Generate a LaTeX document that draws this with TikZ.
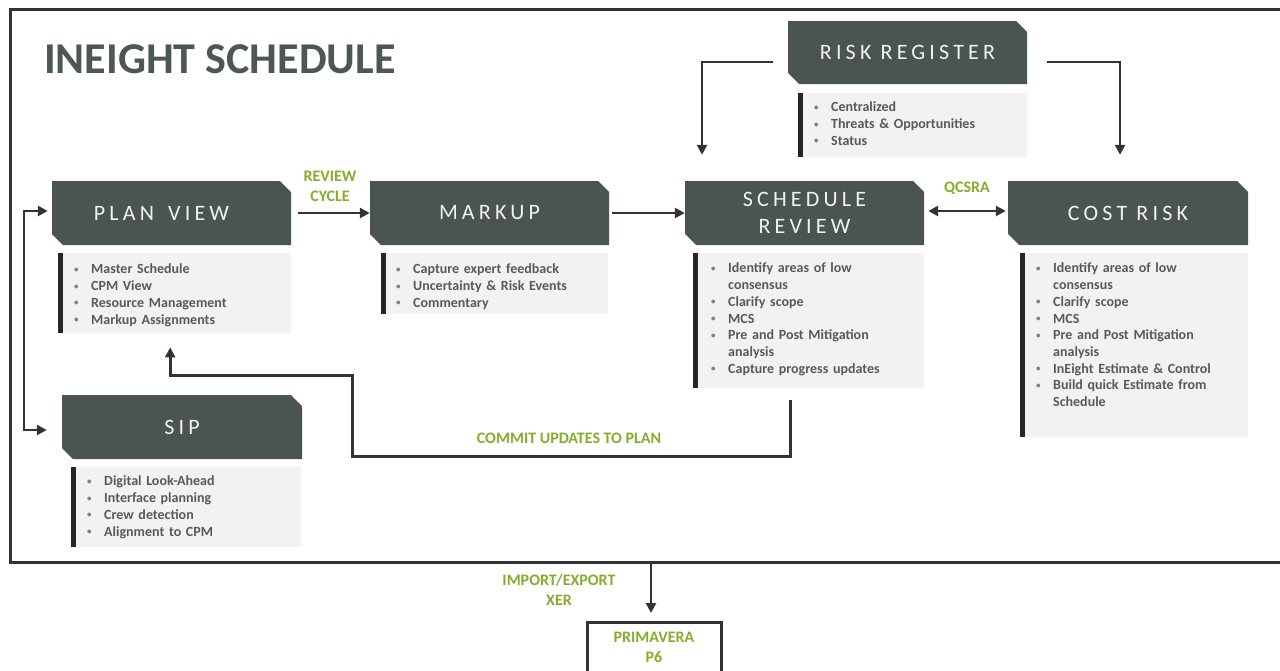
\documentclass[tikz,border=0pt]{standalone}
\usepackage{fontspec}
\setmainfont{Carlito}
\newfontfamily\hdrfont[LetterSpace=19]{Carlito}
\usetikzlibrary{arrows.meta,calc}
\definecolor{hdr}{RGB}{74,84,82}
\definecolor{ttl}{RGB}{77,87,85}
\definecolor{grn}{RGB}{134,172,44}
\definecolor{lst}{RGB}{242,242,242}
\definecolor{ln}{RGB}{51,51,51}
\definecolor{bar}{RGB}{38,38,38}
\definecolor{txt}{RGB}{89,89,89}
\definecolor{bulc}{RGB}{130,130,130}
\newcommand\itm[1]{\par\noindent\hangindent=18pt\hangafter=1\strut\makebox[18pt][l]{\hspace*{1pt}\raisebox{1.5pt}{\textcolor{bulc}{\fontsize{9}{9}\selectfont\textbullet}}}#1\par}
\tikzset{
  hdrbox/.style={minimum width=240pt, minimum height=64pt, inner sep=0pt,
    text=white!95!black, align=center, font=\hdrfont\fontsize{22}{27}\selectfont,
    path picture={\fill[hdr] (path picture bounding box.north west)
      -- ([xshift=-11pt]path picture bounding box.north east)
      -- ([yshift=-11pt]path picture bounding box.north east)
      -- (path picture bounding box.south east)
      -- ([xshift=11pt]path picture bounding box.south west)
      -- ([yshift=11pt]path picture bounding box.south west) -- cycle;}},
  listbox/.style={fill=lst, inner sep=0pt, anchor=north west,
    path picture={\fill[bar] (path picture bounding box.north west) rectangle ([xshift=4.5pt]path picture bounding box.south west);}},
  listtxt/.style={anchor=north west, inner sep=0pt, text width=230pt, align=left,
    font=\bfseries\fontsize{14}{16.7}\selectfont, text=txt},
  conn/.style={draw=ln, line width=2.6pt, -{Triangle[length=10pt,width=10pt]}},
  biconn/.style={draw=ln, line width=2.6pt, {Triangle[length=10pt,width=10pt]}-{Triangle[length=10pt,width=10pt]}},
  lbl/.style={text=grn, font=\bfseries\fontsize{16}{20}\selectfont, align=center, inner sep=0pt},
}
\begin{document}
\begin{tikzpicture}[x=1pt,y=-1pt]
\useasboundingbox (0,0) rectangle (1280,670);
\clip (0,0) rectangle (1280,670);
% outer frame
\draw[ln, line width=3pt] (10,9) rectangle (1300,562);
\node[anchor=base west, inner sep=0pt, text=ttl, font=\bfseries\fontsize{44}{50}\selectfont] (title) at (44,73) {INEIGHT SCHEDULE};

% headers
\node[hdrbox, minimum width=239pt] (pv) at (171.5,213) {PLAN\hspace{5pt} VIEW\hspace*{20pt}};
\node[hdrbox, minimum width=239pt] (mk) at (489.5,213) {MARKUP};
\node[hdrbox, minimum width=239pt] (sr) at (804.5,213) {SCHEDULE\\REVIEW};
\node[hdrbox, minimum width=240pt] (cr) at (1128,213) {COST RISK};
\node[hdrbox, minimum width=239pt, minimum height=63pt] (rr) at (907.5,52.5) {RISK REGISTER};
\node[hdrbox, minimum width=240pt] (sip) at (182,427) {SIP};

% list boxes
\node[listbox, minimum width=233pt, minimum height=80pt] (pvl) at (58,253) {};
\node[listbox, minimum width=227pt, minimum height=61pt] (mkl) at (381,253) {};
\node[listbox, minimum width=231pt, minimum height=135pt] (srl) at (693,253) {};
\node[listbox, minimum width=228pt, minimum height=184pt] (crl) at (1020,253) {};
\node[listbox, minimum width=229pt, minimum height=64pt] (rrl) at (798,93) {};
\node[listbox, minimum width=230pt, minimum height=80pt] (sipl) at (71,467) {};

% list texts
\node[listtxt] (pvt) at ($(pvl.north west)+(15,4)$) {\itm{Master Schedule}\itm{CPM View}\itm{Resource Management}\itm{Markup Assignments}};
\node[listtxt] (mkt) at ($(mkl.north west)+(14,4)$) {\itm{Capture expert feedback}\itm{Uncertainty \& Risk Events}\itm{Commentary}};
\node[listtxt] (srt) at ($(srl.north west)+(17,3)$) {\itm{Identify areas of low\newline consensus}\itm{Clarify scope}\itm{MCS}\itm{Pre and Post Mitigation\newline analysis}\itm{Capture progress updates}};
\node[listtxt] (crt) at ($(crl.north west)+(15,3)$) {\itm{Identify areas of low\newline consensus}\itm{Clarify scope}\itm{MCS}\itm{Pre and Post Mitigation\newline analysis}\itm{InEight Estimate \& Control}\itm{Build quick Estimate from\newline Schedule}};
\node[listtxt] (rrt) at ($(rrl.north west)+(15,2)$) {\itm{Centralized}\itm{Threats \& Opportunities}\itm{Status}};
\node[listtxt] (sipt) at ($(sipl.north west)+(15,2)$) {\itm{Digital Look-Ahead}\itm{Interface planning}\itm{Crew detection}\itm{Alignment to CPM}};

% connectors
\draw[conn] ([xshift=7pt]pv.east) -- (mk.west);
\node[lbl] (rc) at (330,186) {REVIEW\\CYCLE};
\draw[conn] ([xshift=3pt]mk.east) -- (sr.west);
\draw[biconn] ([xshift=4pt,yshift=2pt]sr.east) -- ([xshift=-2pt,yshift=2pt]cr.west);
\node[lbl] (qc) at (967,188) {QCSRA};
\draw[conn] ([xshift=-15pt,yshift=-9.5pt]rr.west) -| ([xshift=-102.5pt,yshift=26pt]sr.north);
\draw[conn] ([xshift=20pt,yshift=-9.5pt]rr.east) -| ([xshift=-8pt,yshift=26pt]cr.north);
\draw[conn] ([xshift=-18.5pt,yshift=-12pt]srl.south) -- ++(0,56) -- ++(-438,0) -- ++(0,-81) -| ([xshift=-4.5pt,yshift=-14pt]pvl.south);
\node[lbl] (cu) at (569,438) {COMMIT UPDATES TO PLAN};
\draw[biconn] ([xshift=-4pt,yshift=2pt]pv.west) -- ++(-24,0) |- ([xshift=-15pt,yshift=-3pt]sip.west);

% primavera
\node[draw=ln, line width=3pt, minimum width=134pt, minimum height=70pt, anchor=north, inner sep=0pt] (p6) at (654,621) {};
\node[lbl] (p6t) at (654,647) {PRIMAVERA\\P6};
\coordinate (ie) at (651,562);
\draw[conn] (ie) -- ([yshift=8pt]ie |- p6.north);
\node[lbl] (iel) at (559,590) {IMPORT/EXPORT\\XER};
\end{tikzpicture}
\end{document}
